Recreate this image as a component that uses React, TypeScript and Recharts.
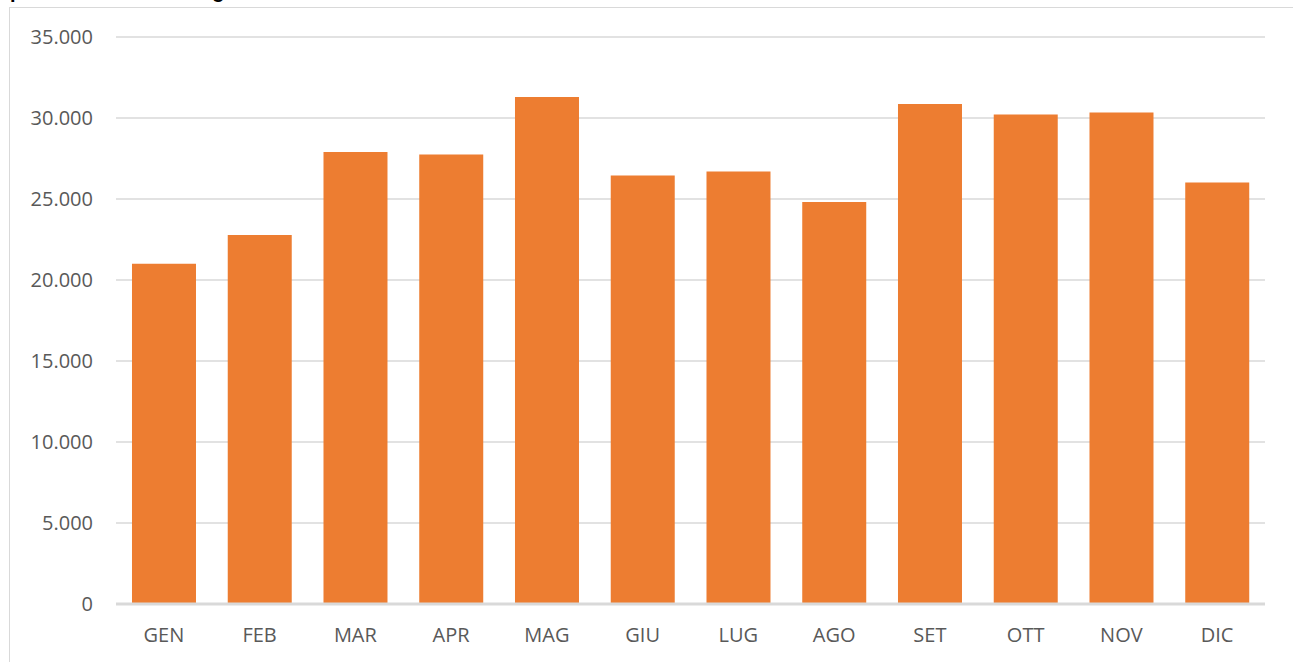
import React from "react";
import { BarChart, Bar, XAxis, YAxis, CartesianGrid } from "recharts";

const months = ["GEN", "FEB", "MAR", "APR", "MAG", "GIU", "LUG", "AGO", "SET", "OTT", "NOV", "DIC"];
const values = [21000, 22780, 27900, 27750, 31300, 26450, 26700, 24820, 30860, 30220, 30340, 26020];
const yTicks = [0, 5000, 10000, 15000, 20000, 25000, 30000, 35000];
const titleText = "pazienti dimessi in regime ordinario";

const data = months.map((m, i) => ({ month: m, value: values[i] }));

const fmt = (v: number) => String(v).replace(/\B(?=(\d{3})+(?!\d))/g, ".");

const FONT = "'Open Sans', 'Noto Sans', sans-serif";

export default function App() {
  return (
    <div
      style={{
        position: "absolute",
        left: 0,
        top: 0,
        width: 1293,
        height: 662,
        overflow: "hidden",
        background: "#ffffff",
      }}
    >
      <div
        style={{
          position: "absolute",
          left: 9,
          top: 7,
          width: 1400,
          height: 800,
          border: "1px solid #d9d9d9",
          boxSizing: "border-box",
        }}
      />
      <div
        style={{
          position: "absolute",
          left: 10,
          top: -21,
          fontFamily: "'Liberation Sans', Arial, sans-serif",
          fontWeight: "bold",
          fontSize: 20,
          lineHeight: "24px",
          color: "#000",
          whiteSpace: "nowrap",
        }}
      >
        {titleText}
      </div>
      <div style={{ position: "absolute", left: 0, top: 0 }}>
        <BarChart
          width={1293}
          height={662}
          data={data}
          margin={{ top: 37, right: 28, bottom: 0, left: 0 }}
          barCategoryGap="16.7%"
        >
          <CartesianGrid vertical={false} stroke="#d9d9d9" strokeWidth={1.3} />
          <XAxis
            dataKey="month"
            height={58}
            axisLine={{ stroke: "#d9d9d9", strokeWidth: 3 }}
            tickLine={false}
            tickMargin={18}
            tick={{ fill: "#595959", fontSize: 20, fontFamily: FONT }}
            interval={0}
          />
          <YAxis
            width={116}
            domain={[0, 35000]}
            ticks={yTicks}
            tickFormatter={fmt}
            axisLine={false}
            tickLine={false}
            tickMargin={17}
            tick={{ fill: "#595959", fontSize: 20, fontFamily: FONT }}
            interval={0}
          />
          <Bar dataKey="value" fill="#ED7D31" isAnimationActive={false} />
        </BarChart>
      </div>
    </div>
  );
}
